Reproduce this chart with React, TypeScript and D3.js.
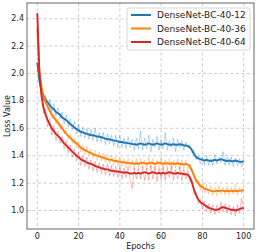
import React from 'react';
import * as d3 from 'd3';

const W = 258;
const H = 252;
const margin = { top: 3, right: 4, bottom: 23, left: 27 };

const seriesNames = ['DenseNet-BC-40-12', 'DenseNet-BC-40-36', 'DenseNet-BC-40-64'];
const seriesColors = ['#1f77b4', '#ff7f0e', '#d62728'];
const xTicks = [0, 20, 40, 60, 80, 100];
const yTicks = [1.0, 1.2, 1.4, 1.6, 1.8, 2.0, 2.2, 2.4];

const blueSmooth = [
  2.08, 1.95, 1.88, 1.84, 1.81, 1.79, 1.77, 1.75, 1.74, 1.72,
  1.71, 1.70, 1.68, 1.67, 1.66, 1.645, 1.63, 1.62, 1.605, 1.595,
  1.585, 1.575, 1.57, 1.565, 1.56, 1.555, 1.55, 1.55, 1.545, 1.54,
  1.54, 1.535, 1.53, 1.525, 1.52, 1.52, 1.515, 1.51, 1.51, 1.505,
  1.50, 1.50, 1.495, 1.495, 1.49, 1.49, 1.485, 1.485, 1.48, 1.485,
  1.49, 1.485, 1.48, 1.485, 1.49, 1.485, 1.48, 1.485, 1.49, 1.485,
  1.48, 1.485, 1.49, 1.485, 1.48, 1.48, 1.485, 1.48, 1.48, 1.485,
  1.48, 1.475, 1.475, 1.47, 1.46, 1.44, 1.41, 1.39, 1.38, 1.375,
  1.37, 1.365, 1.37, 1.365, 1.36, 1.365, 1.37, 1.365, 1.37, 1.375,
  1.37, 1.365, 1.36, 1.365, 1.36, 1.36, 1.365, 1.36, 1.355, 1.355,
  1.36,
];
const blueRaw = [
  2.08, 1.92, 1.91, 1.81, 1.84, 1.75, 1.81, 1.72, 1.78, 1.69,
  1.75, 1.67, 1.72, 1.63, 1.70, 1.61, 1.67, 1.59, 1.65, 1.56,
  1.63, 1.54, 1.61, 1.53, 1.60, 1.52, 1.59, 1.51, 1.60, 1.50,
  1.57, 1.50, 1.57, 1.48, 1.56, 1.49, 1.55, 1.47, 1.55, 1.46,
  1.55, 1.46, 1.53, 1.45, 1.54, 1.46, 1.52, 1.44, 1.53, 1.45,
  1.58, 1.44, 1.53, 1.45, 1.55, 1.43, 1.52, 1.46, 1.54, 1.44,
  1.52, 1.45, 1.57, 1.44, 1.51, 1.46, 1.53, 1.43, 1.52, 1.46,
  1.51, 1.44, 1.50, 1.46, 1.48, 1.42, 1.43, 1.37, 1.40, 1.34,
  1.39, 1.33, 1.40, 1.33, 1.38, 1.33, 1.41, 1.34, 1.39, 1.35,
  1.43, 1.33, 1.39, 1.33, 1.39, 1.32, 1.38, 1.33, 1.38, 1.32,
  1.37,
];
const orangeSmooth = [
  2.33, 2.02, 1.90, 1.83, 1.79, 1.76, 1.73, 1.70, 1.68, 1.66,
  1.64, 1.62, 1.60, 1.58, 1.56, 1.545, 1.53, 1.515, 1.50, 1.49,
  1.475, 1.46, 1.45, 1.44, 1.435, 1.425, 1.42, 1.41, 1.405, 1.40,
  1.395, 1.39, 1.385, 1.38, 1.375, 1.37, 1.37, 1.365, 1.36, 1.36,
  1.355, 1.355, 1.35, 1.35, 1.345, 1.345, 1.345, 1.34, 1.345, 1.34,
  1.345, 1.35, 1.345, 1.34, 1.345, 1.35, 1.345, 1.34, 1.345, 1.35,
  1.345, 1.34, 1.345, 1.345, 1.34, 1.345, 1.34, 1.34, 1.345, 1.34,
  1.34, 1.335, 1.34, 1.335, 1.32, 1.29, 1.25, 1.22, 1.20, 1.18,
  1.17, 1.16, 1.155, 1.15, 1.145, 1.14, 1.14, 1.145, 1.14, 1.145,
  1.145, 1.14, 1.145, 1.14, 1.145, 1.14, 1.145, 1.14, 1.145, 1.145,
  1.15,
];
const orangeRaw = [
  2.33, 1.98, 1.93, 1.80, 1.82, 1.73, 1.76, 1.67, 1.71, 1.63,
  1.67, 1.59, 1.63, 1.56, 1.59, 1.52, 1.56, 1.49, 1.53, 1.46,
  1.50, 1.43, 1.48, 1.41, 1.47, 1.40, 1.45, 1.38, 1.44, 1.37,
  1.43, 1.36, 1.42, 1.35, 1.41, 1.34, 1.40, 1.33, 1.39, 1.33,
  1.39, 1.32, 1.38, 1.31, 1.38, 1.31, 1.37, 1.30, 1.38, 1.31,
  1.38, 1.31, 1.37, 1.30, 1.39, 1.31, 1.38, 1.30, 1.37, 1.31,
  1.38, 1.30, 1.37, 1.31, 1.38, 1.30, 1.37, 1.31, 1.38, 1.30,
  1.37, 1.30, 1.37, 1.30, 1.34, 1.27, 1.27, 1.19, 1.22, 1.15,
  1.20, 1.13, 1.19, 1.12, 1.18, 1.11, 1.17, 1.11, 1.18, 1.12,
  1.17, 1.11, 1.18, 1.11, 1.17, 1.12, 1.19, 1.11, 1.17, 1.12,
  1.17,
];
const redSmooth = [
  2.44, 2.00, 1.84, 1.75, 1.70, 1.66, 1.63, 1.60, 1.58, 1.56,
  1.545, 1.53, 1.51, 1.49, 1.475, 1.46, 1.445, 1.43, 1.415, 1.40,
  1.39, 1.375, 1.365, 1.36, 1.35, 1.345, 1.34, 1.335, 1.325, 1.32,
  1.315, 1.31, 1.305, 1.30, 1.30, 1.295, 1.29, 1.29, 1.285, 1.285,
  1.28, 1.28, 1.275, 1.28, 1.275, 1.27, 1.27, 1.275, 1.27, 1.275,
  1.27, 1.275, 1.28, 1.275, 1.27, 1.275, 1.28, 1.275, 1.27, 1.275,
  1.27, 1.275, 1.27, 1.275, 1.28, 1.275, 1.27, 1.27, 1.275, 1.27,
  1.27, 1.265, 1.265, 1.26, 1.24, 1.20, 1.15, 1.11, 1.08, 1.06,
  1.05, 1.04, 1.03, 1.02, 1.015, 1.01, 1.005, 1.005, 1.01, 1.02,
  1.025, 1.02, 1.015, 1.01, 1.005, 1.005, 1.00, 1.005, 1.01, 1.015,
  1.02,
];
const redRaw = [
  2.44, 1.95, 1.87, 1.71, 1.74, 1.61, 1.67, 1.55, 1.62, 1.51,
  1.58, 1.49, 1.54, 1.45, 1.51, 1.42, 1.48, 1.39, 1.45, 1.36,
  1.43, 1.33, 1.40, 1.32, 1.39, 1.30, 1.37, 1.29, 1.36, 1.28,
  1.35, 1.27, 1.34, 1.26, 1.34, 1.25, 1.33, 1.25, 1.32, 1.24,
  1.33, 1.23, 1.31, 1.24, 1.32, 1.22, 1.16, 1.31, 1.23, 1.31,
  1.23, 1.32, 1.22, 1.31, 1.22, 1.33, 1.23, 1.32, 1.21, 1.31,
  1.23, 1.32, 1.22, 1.31, 1.24, 1.33, 1.22, 1.30, 1.23, 1.32,
  1.22, 1.30, 1.23, 1.29, 1.21, 1.23, 1.11, 1.13, 1.05, 1.08,
  1.01, 1.07, 0.99, 1.05, 0.98, 1.04, 0.97, 1.04, 0.98, 1.06,
  0.99, 1.05, 0.98, 1.04, 0.97, 1.03, 0.96, 1.04, 0.98, 1.09,
  1.00,
];

const smoothSeries = [blueSmooth, orangeSmooth, redSmooth];
const rawSeries = [blueRaw, orangeRaw, redRaw];

const font = 'DejaVu Sans, sans-serif';

export default function App() {
  const x = d3.scaleLinear().domain([-5, 105]).range([margin.left, W - margin.right]);
  const y = d3.scaleLinear().domain([0.865, 2.515]).range([H - margin.bottom, margin.top]);
  const line = d3
    .line<number>()
    .x((d, i) => x(i))
    .y(d => y(d));

  const [x0, x1] = x.range();
  const [y0, y1] = y.range();

  return (
    <svg
      width={W}
      height={H}
      style={{ position: 'absolute', left: 0, top: 0, background: '#fff' }}
      fontFamily={font}
    >
      <defs>
        <clipPath id="plot">
          <rect x={x0} y={y1} width={x1 - x0} height={y0 - y1} />
        </clipPath>
      </defs>
      {/* grid */}
      <g stroke="#b0b0b0" strokeWidth={0.8} strokeDasharray="3,2.5" opacity={0.8}>
        {xTicks.map(t => (
          <line key={'gx' + t} x1={x(t)} x2={x(t)} y1={y1} y2={y0} />
        ))}
        {yTicks.map(t => (
          <line key={'gy' + t} x1={x0} x2={x1} y1={y(t)} y2={y(t)} />
        ))}
      </g>
      {/* series */}
      <g clipPath="url(#plot)" fill="none" strokeLinejoin="round">
        {seriesNames.map((name, k) => (
          <g key={name}>
            <path d={line(rawSeries[k]) || ''} stroke={seriesColors[k]} strokeWidth={1} opacity={0.3} />
            <path d={line(smoothSeries[k]) || ''} stroke={seriesColors[k]} strokeWidth={1.9} />
          </g>
        ))}
      </g>
      {/* spines */}
      <rect x={x0} y={y1} width={x1 - x0} height={y0 - y1} fill="none" stroke="#666" strokeWidth={1} />
      {/* x axis */}
      <g fontSize={8} fill="#222" textAnchor="middle">
        {xTicks.map(t => (
          <text key={'xt' + t} x={x(t)} y={y0 + 9.5}>{t}</text>
        ))}
      </g>
      {/* y axis */}
      <g fontSize={8} fill="#222" textAnchor="end">
        {yTicks.map(t => (
          <text key={'yt' + t} x={x0 - 3} y={y(t)} dominantBaseline="central">{t.toFixed(1)}</text>
        ))}
      </g>
      <text x={(x0 + x1) / 2} y={H - 3.5} fontSize={8} textAnchor="middle" fill="#222">
        Epochs
      </text>
      <text
        transform={`translate(7,${(y0 + y1) / 2}) rotate(-90)`}
        fontSize={8}
        textAnchor="middle"
        dominantBaseline="central"
        fill="#222"
      >
        Loss Value
      </text>
      {/* legend */}
      <g>
        <rect x={127} y={8} width={123} height={42} rx={2} fill="#fff" fillOpacity={0.8} stroke="#ccc" strokeWidth={0.8} />
        {seriesNames.map((name, k) => (
          <g key={'lg' + name}>
            <line x1={131} x2={151} y1={15 + k * 13.5} y2={15 + k * 13.5} stroke={seriesColors[k]} strokeWidth={2} />
            <text x={157} y={15 + k * 13.5} fontSize={9} dominantBaseline="central" fill="#222">
              {name}
            </text>
          </g>
        ))}
      </g>
    </svg>
  );
}
